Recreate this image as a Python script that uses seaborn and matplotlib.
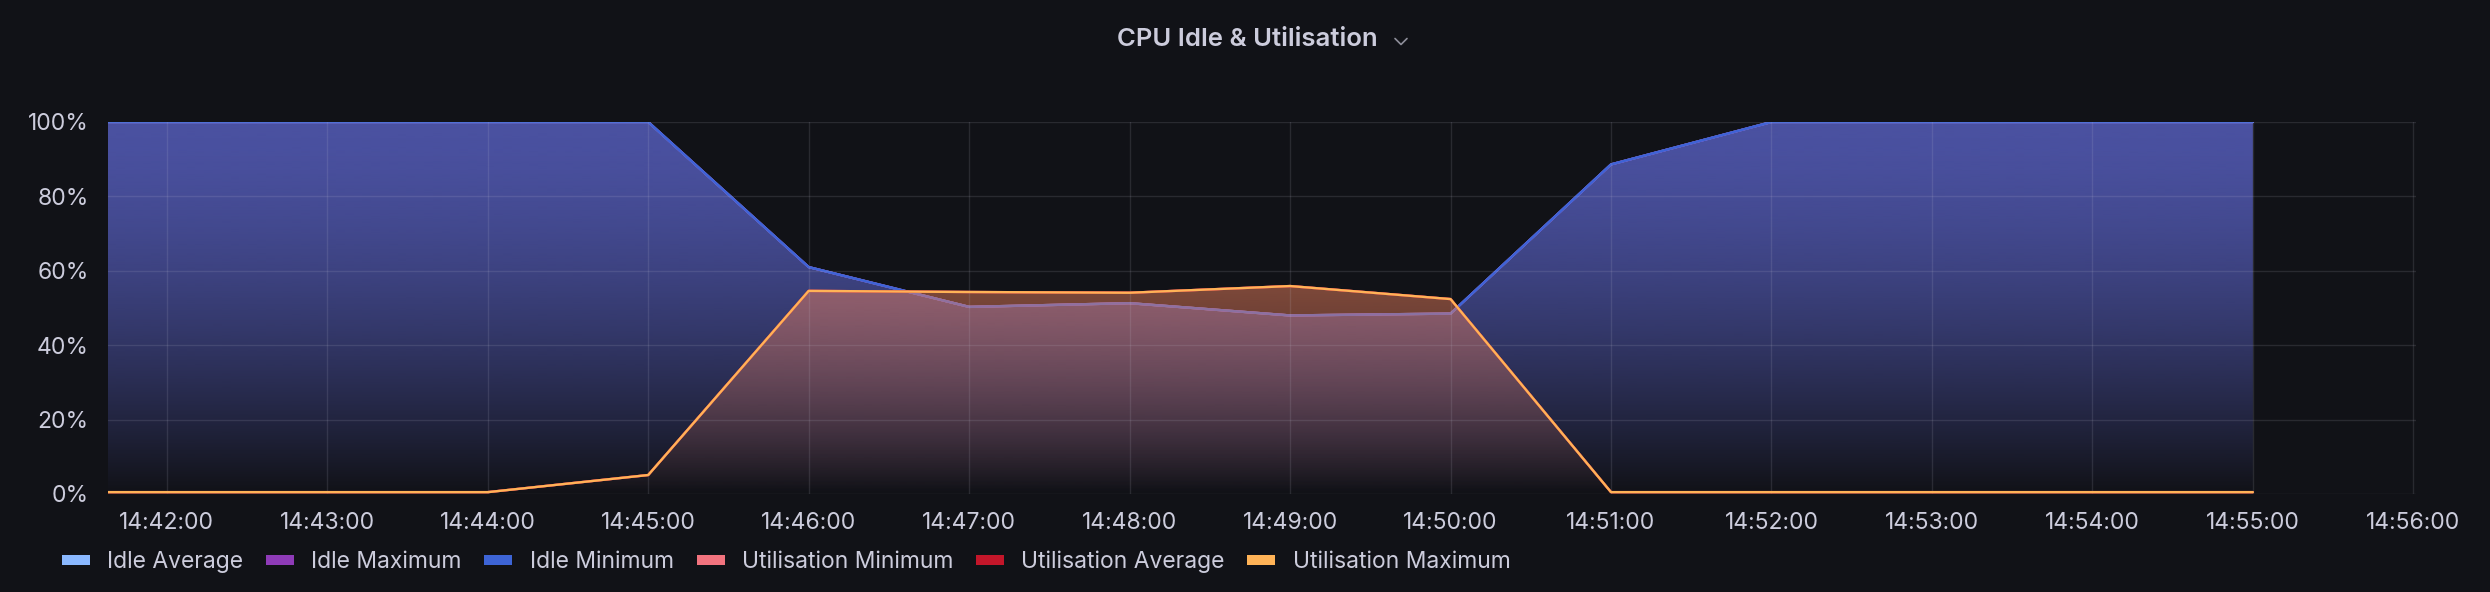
import numpy as np
import pandas as pd
import seaborn as sns
import matplotlib.pyplot as plt
import matplotlib.dates as mdates
from matplotlib.patches import Patch
from matplotlib.lines import Line2D

# sample times (one point per minute)
times = ["14:41:00", "14:42:00", "14:43:00", "14:44:00", "14:45:00",
         "14:46:00", "14:47:00", "14:48:00", "14:49:00", "14:50:00",
         "14:51:00", "14:52:00", "14:53:00", "14:54:00", "14:55:00"]

# idle %, the three idle series overlap exactly
idle_avg = [100, 100, 100, 100, 100, 61.0, 50.3, 51.3, 48.0, 48.5, 88.6, 100, 100, 100, 100]
idle_max = [100, 100, 100, 100, 100, 61.0, 50.3, 51.3, 48.0, 48.5, 88.6, 100, 100, 100, 100]
idle_min = [100, 100, 100, 100, 100, 61.0, 50.3, 51.3, 48.0, 48.5, 88.6, 100, 100, 100, 100]

# utilisation %, the three series overlap exactly
util_min = [0.5, 0.5, 0.5, 0.5, 5.1, 54.6, 54.3, 54.1, 55.9, 52.4, 0.5, 0.5, 0.5, 0.5, 0.5]
util_avg = [0.5, 0.5, 0.5, 0.5, 5.1, 54.6, 54.3, 54.1, 55.9, 52.4, 0.5, 0.5, 0.5, 0.5, 0.5]
util_max = [0.5, 0.5, 0.5, 0.5, 5.1, 54.6, 54.3, 54.1, 55.9, 52.4, 0.5, 0.5, 0.5, 0.5, 0.5]

idle_names = ["Idle Average", "Idle Maximum", "Idle Minimum"]
util_names = ["Utilisation Minimum", "Utilisation Average", "Utilisation Maximum"]
idle_colors = ["#8AB8FF", "#8F3BB8", "#3D64D6"]
util_colors = ["#F2737E", "#C4162A", "#FFB357"]

BG = "#111217"
TEXT = "#ccccdc"
GRID_RGB = (204 / 255, 204 / 255, 220 / 255)
GRID_ALPHA = 0.13
TICK = (0.26, 0.26, 0.29)

day = "2024-01-01 "
t = pd.to_datetime([day + s for s in times])

rows = []
for name, vals in zip(idle_names + util_names,
                      [idle_avg, idle_max, idle_min, util_min, util_avg, util_max]):
    for ti, v in zip(t, vals):
        rows.append({"time": ti, "value": v, "series": name})
df = pd.DataFrame(rows)

sns.set_style("dark", {"axes.facecolor": BG, "figure.facecolor": BG})
plt.rcParams["font.family"] = ["Inter", "DejaVu Sans"]

fig = plt.figure(figsize=(24.9, 5.92), dpi=100, facecolor=BG)
ax = fig.add_axes([108 / 2490, 1 - 494 / 592, (2416 - 108) / 2490, (494 - 122) / 592])
ax.set_facecolor(BG)


def gradient_fill(ax, x, y, rgb, alpha_top, z):
    xn = mdates.date2num(x)
    poly = ax.fill_between(xn, y, 0, facecolor="none", edgecolor="none")
    h = np.linspace(0, 1, 256)
    img = np.zeros((256, 1, 4))
    img[..., :3] = np.array(rgb) / 255
    img[..., 3] = (alpha_top * (1 - (1 - h) ** 1.6))[:, None]
    im = ax.imshow(img, extent=[xn.min(), xn.max(), 0, 100], origin="lower",
                   aspect="auto", interpolation="bilinear", zorder=z)
    im.set_clip_path(poly.get_paths()[0], transform=ax.transData)


sns.lineplot(data=df[df.series.isin(idle_names)], x="time", y="value", hue="series",
             hue_order=idle_names, palette=idle_colors, estimator=None, legend=False,
             linewidth=1.7, zorder=1.2, ax=ax)
sns.lineplot(data=df[df.series.isin(util_names)], x="time", y="value", hue="series",
             hue_order=util_names, palette=util_colors, estimator=None, legend=False,
             linewidth=1.7, zorder=3, ax=ax)

gradient_fill(ax, t, idle_min, (94, 103, 208), 0.75, 1.0)
gradient_fill(ax, t, util_max, (240, 130, 95), 0.67, 1.4)

ax.set_ylim(0, 100)
ax.set_yticks(range(0, 101, 20))
ax.yaxis.set_major_formatter(lambda v, p: f"{v:.0f}%")
ax.set_xlim(pd.Timestamp(day + "14:41:38"), pd.Timestamp(day + "14:56:01"))
ax.xaxis.set_major_locator(mdates.MinuteLocator())
ax.xaxis.set_major_formatter(mdates.DateFormatter("%H:%M:%S"))
ax.set_xlabel("")
ax.set_ylabel("")
for s in ax.spines.values():
    s.set_visible(False)
ax.set_axisbelow(False)
ax.grid(True, color=GRID_RGB, alpha=GRID_ALPHA, linewidth=1)
ax.tick_params(axis="both", labelsize=16.5, labelcolor=TEXT, color=TICK,
               length=5.8, width=1)
ax.tick_params(axis="x", pad=7)
ax.tick_params(axis="y", pad=8)

fig.text(1247.5 / 2490, 1 - 39 / 592, "CPU Idle & Utilisation", ha="center", va="center",
         fontsize=18.5, fontweight="semibold", color=TEXT)
fig.add_artist(Line2D([1395 / 2490, 1401 / 2490, 1407 / 2490],
                      [1 - 38.5 / 592, 1 - 44.5 / 592, 1 - 38.5 / 592],
                      color="#8e8e9a", lw=1.2, transform=fig.transFigure))

handles = [Patch(facecolor=c, edgecolor="none") for c in idle_colors + util_colors]
fig.legend(handles, idle_names + util_names, loc="center left",
           bbox_to_anchor=(62 / 2490, 1 - 562 / 592), ncol=6, frameon=False,
           fontsize=16.5, labelcolor=TEXT, handlelength=1.22, handleheight=0.35,
           handletextpad=0.75, columnspacing=1.0, borderpad=0, borderaxespad=0)

fig.savefig("out.png", dpi=100, facecolor=BG)
